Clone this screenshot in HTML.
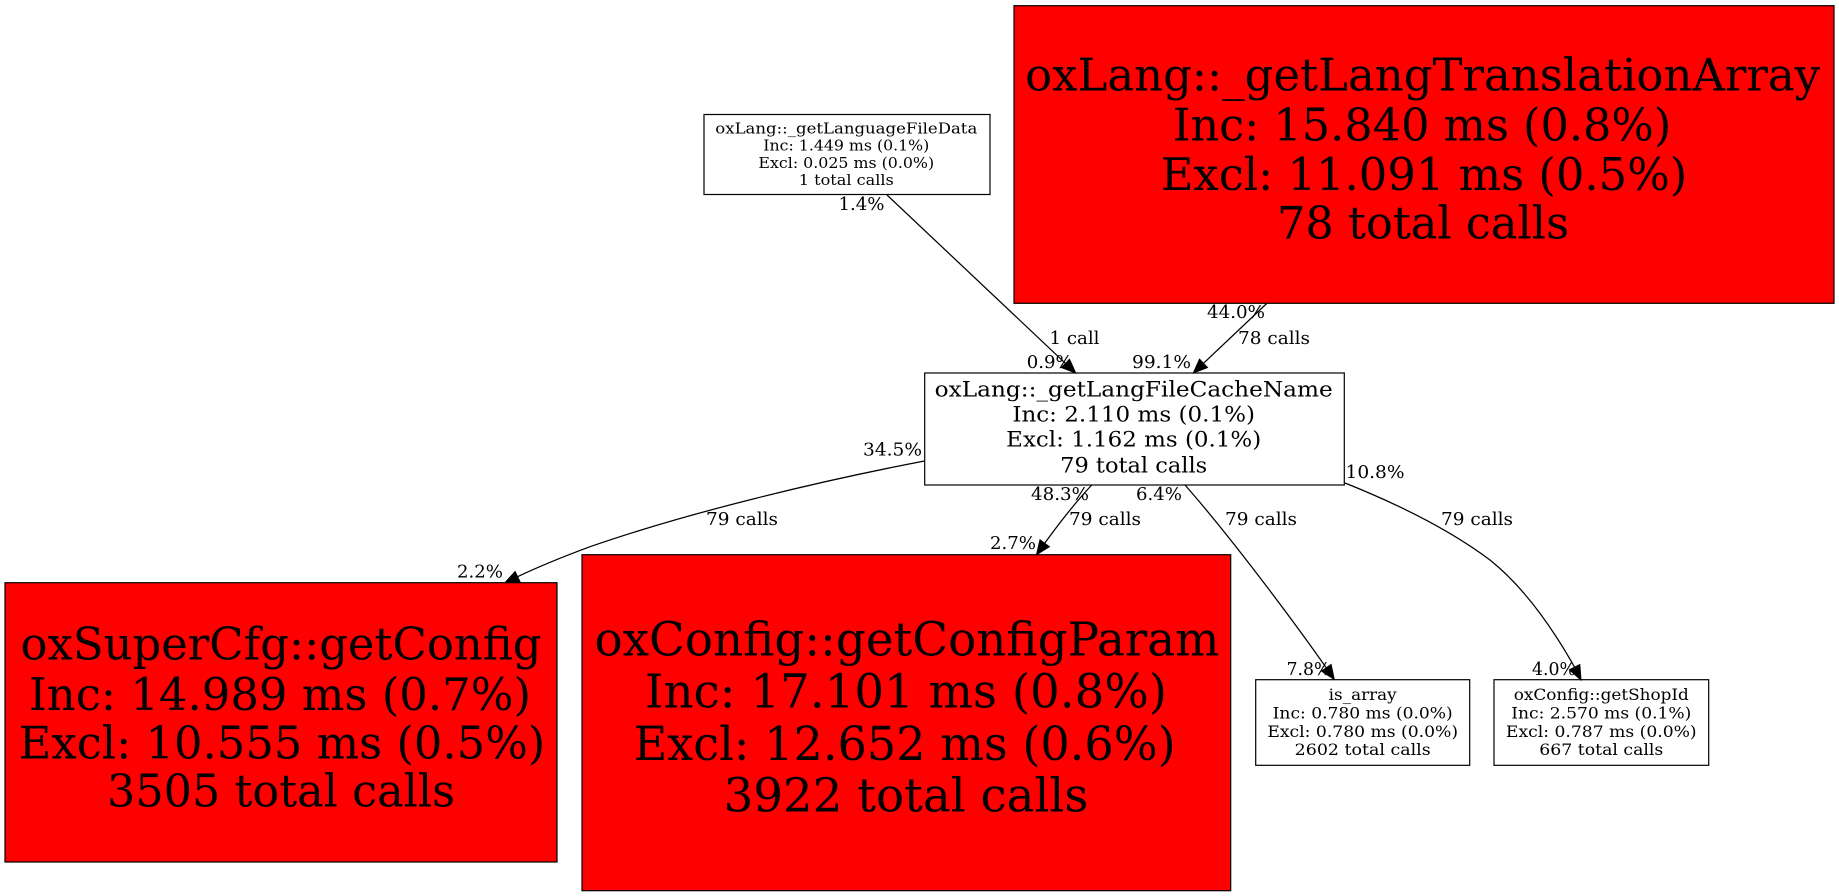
<!DOCTYPE html>
<html><head><meta charset="utf-8"><style>
html,body{margin:0;padding:0;background:#fff;width:1839px;height:896px;overflow:hidden}
svg{display:block}
text{font-family:"DejaVu Serif","Liberation Serif",serif;text-anchor:middle;fill:#000}
.e{font-size:18px}
.b{fill:#f00;stroke:#000;stroke-width:1.2}
.w{fill:#fff;stroke:#000;stroke-width:1.2}
.l{fill:none;stroke:#000;stroke-width:1.25}
polygon{fill:#000;stroke:#000;stroke-width:1}
</style></head><body>
<svg width="1839" height="896" viewBox="0 0 1839 896" xmlns="http://www.w3.org/2000/svg">
<rect width="1839" height="896" fill="#fff"/>

<rect class="w" x="704" y="114.5" width="286" height="80"/>
<g font-size="14.8">
<text x="846.3" y="133.5" textLength="262" lengthAdjust="spacingAndGlyphs">oxLang::_getLanguageFileData</text>
<text x="846.3" y="150.7" textLength="166" lengthAdjust="spacingAndGlyphs">Inc: 1.449 ms (0.1%)</text>
<text x="846.3" y="168" textLength="175.7" lengthAdjust="spacingAndGlyphs">Excl: 0.025 ms (0.0%)</text>
<text x="846.3" y="185" textLength="95" lengthAdjust="spacingAndGlyphs">1 total calls</text>
</g>

<rect class="b" x="1014" y="5.7" width="820" height="297.6"/>
<g font-size="44.5">
<text x="1422.6" y="90.7" textLength="795" lengthAdjust="spacingAndGlyphs">oxLang::_getLangTranslationArray</text>
<text x="1422" y="140.7" textLength="498.5" lengthAdjust="spacingAndGlyphs">Inc: 15.840 ms (0.8%)</text>
<text x="1424" y="190" textLength="526.6" lengthAdjust="spacingAndGlyphs">Excl: 11.091 ms (0.5%)</text>
<text x="1423" y="238.7" textLength="292" lengthAdjust="spacingAndGlyphs">78 total calls</text>
</g>

<rect class="w" x="924.7" y="373" width="419.6" height="112"/>
<g font-size="21.7">
<text x="1133.7" y="396.7" textLength="398" lengthAdjust="spacingAndGlyphs">oxLang::_getLangFileCacheName</text>
<text x="1133.7" y="421.7" textLength="242.7" lengthAdjust="spacingAndGlyphs">Inc: 2.110 ms (0.1%)</text>
<text x="1133.7" y="446.7" textLength="255" lengthAdjust="spacingAndGlyphs">Excl: 1.162 ms (0.1%)</text>
<text x="1133.7" y="472.5" textLength="147" lengthAdjust="spacingAndGlyphs">79 total calls</text>
</g>

<rect class="b" x="5" y="582.7" width="552" height="279.3"/>
<g font-size="44.5">
<text x="281" y="659.3" textLength="521" lengthAdjust="spacingAndGlyphs">oxSuperCfg::getConfig</text>
<text x="280" y="710" textLength="502" lengthAdjust="spacingAndGlyphs">Inc: 14.989 ms (0.7%)</text>
<text x="282" y="758.3" textLength="526.6" lengthAdjust="spacingAndGlyphs">Excl: 10.555 ms (0.5%)</text>
<text x="281" y="806.7" textLength="348" lengthAdjust="spacingAndGlyphs">3505 total calls</text>
</g>

<rect class="b" x="582" y="554.7" width="648.7" height="336"/>
<g font-size="47">
<text x="907" y="655.7" textLength="625" lengthAdjust="spacingAndGlyphs">oxConfig::getConfigParam</text>
<text x="906" y="707.7" textLength="522" lengthAdjust="spacingAndGlyphs">Inc: 17.101 ms (0.8%)</text>
<text x="904.6" y="760" textLength="542" lengthAdjust="spacingAndGlyphs">Excl: 12.652 ms (0.6%)</text>
<text x="906" y="811.7" textLength="364.7" lengthAdjust="spacingAndGlyphs">3922 total calls</text>
</g>

<rect class="w" x="1255.7" y="679.7" width="214" height="85.6"/>
<g font-size="15.7">
<text x="1362.7" y="700" textLength="68" lengthAdjust="spacingAndGlyphs">is_array</text>
<text x="1362.7" y="718.5" textLength="180" lengthAdjust="spacingAndGlyphs">Inc: 0.780 ms (0.0%)</text>
<text x="1362.7" y="737" textLength="190.7" lengthAdjust="spacingAndGlyphs">Excl: 0.780 ms (0.0%)</text>
<text x="1362.7" y="755" textLength="136" lengthAdjust="spacingAndGlyphs">2602 total calls</text>
</g>

<rect class="w" x="1494" y="679.7" width="214.7" height="85.6"/>
<g font-size="15.7">
<text x="1601.3" y="700" textLength="175" lengthAdjust="spacingAndGlyphs">oxConfig::getShopId</text>
<text x="1601.3" y="718.5" textLength="180" lengthAdjust="spacingAndGlyphs">Inc: 2.570 ms (0.1%)</text>
<text x="1601.3" y="737" textLength="190.7" lengthAdjust="spacingAndGlyphs">Excl: 0.787 ms (0.0%)</text>
<text x="1601.3" y="755" textLength="124" lengthAdjust="spacingAndGlyphs">667 total calls</text>
</g>

<path class="l" d="M887 195 L1065.5 363.4"/>
<polygon points="1075.7,373 1061.5,367.6 1069.5,359.2"/>
<path class="l" d="M1266.7 303.5 L1203.5 363.3"/>
<polygon points="1193.3,373 1207.5,367.5 1199.5,359.1"/>
<path class="l" d="M924.5 461 C 820 481, 690 512, 590 546.7 C 565 556, 540 566, 517.6 576.7"/>
<polygon points="505,582.7 520.1,581.9 515.1,571.5"/>
<path class="l" d="M1091.7 485 C 1075 503, 1060 522, 1044.7 543.3"/>
<polygon points="1036.5,554.7 1049.4,546.7 1040,539.9"/>
<path class="l" d="M1185 485 C 1222 527, 1280 602, 1326.3 667.8"/>
<polygon points="1334.3,679.5 1321.5,671.1 1331.1,664.5"/>
<path class="l" d="M1345 483 C 1400 505, 1450 530, 1490 560 C 1520 584, 1548 620, 1574.6 667.2"/>
<polygon points="1581,680 1569.4,669.9 1579.8,664.5"/>

<g class="e">
<text x="861.5" y="210" textLength="46" lengthAdjust="spacingAndGlyphs">1.4%</text>
<text x="1074.5" y="344" textLength="50" lengthAdjust="spacingAndGlyphs">1 call</text>
<text x="1049.7" y="368" textLength="46" lengthAdjust="spacingAndGlyphs">0.9%</text>
<text x="1161.5" y="368" textLength="59" lengthAdjust="spacingAndGlyphs">99.1%</text>
<text x="1236" y="318" textLength="58" lengthAdjust="spacingAndGlyphs">44.0%</text>
<text x="1274" y="344" textLength="72" lengthAdjust="spacingAndGlyphs">78 calls</text>
<text x="892.5" y="455.7" textLength="59" lengthAdjust="spacingAndGlyphs">34.5%</text>
<text x="1060" y="500" textLength="58" lengthAdjust="spacingAndGlyphs">48.3%</text>
<text x="1159" y="500" textLength="46" lengthAdjust="spacingAndGlyphs">6.4%</text>
<text x="1375" y="478" textLength="59" lengthAdjust="spacingAndGlyphs">10.8%</text>
<text x="742" y="525" textLength="72" lengthAdjust="spacingAndGlyphs">79 calls</text>
<text x="1105" y="525" textLength="72" lengthAdjust="spacingAndGlyphs">79 calls</text>
<text x="1261" y="525" textLength="72" lengthAdjust="spacingAndGlyphs">79 calls</text>
<text x="1477" y="525" textLength="72" lengthAdjust="spacingAndGlyphs">79 calls</text>
<text x="480" y="577.7" textLength="46" lengthAdjust="spacingAndGlyphs">2.2%</text>
<text x="1013" y="549" textLength="46" lengthAdjust="spacingAndGlyphs">2.7%</text>
<text x="1308.5" y="675" textLength="44" lengthAdjust="spacingAndGlyphs">7.8%</text>
<text x="1554" y="675" textLength="44" lengthAdjust="spacingAndGlyphs">4.0%</text>
</g>
</svg>
</body></html>
